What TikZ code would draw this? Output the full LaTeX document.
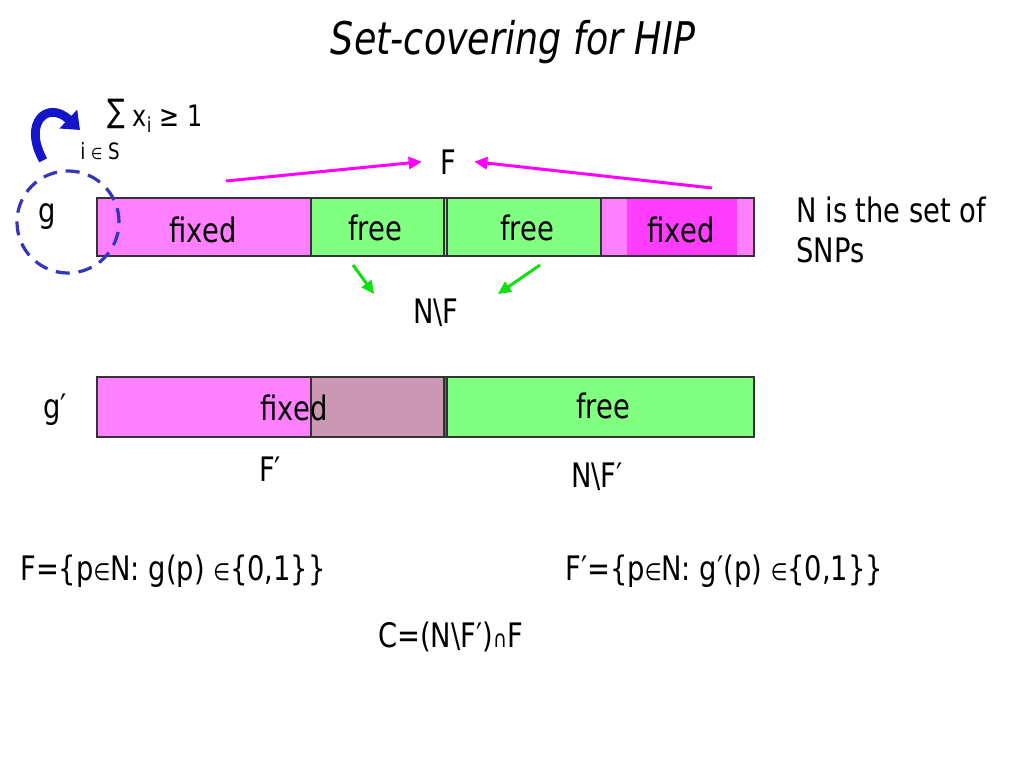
\documentclass[tikz,border=0pt]{standalone}
\usepackage{fontspec}
\setmainfont{DejaVu Sans}[FakeStretch=0.81]
\usetikzlibrary{arrows.meta}

\definecolor{pinkfix}{HTML}{FF80FF}
\definecolor{magfix}{HTML}{FF3DFF}
\definecolor{greenfree}{HTML}{80FF80}
\definecolor{mauve}{HTML}{CA98B2}
\definecolor{arrmag}{HTML}{FF00FF}
\definecolor{arrgreen}{HTML}{10E010}
\definecolor{circblue}{HTML}{3535BB}
\definecolor{bendblue}{HTML}{1414C8}

\newcommand{\inn}{\scalebox{0.7}{∈}}
\newcommand{\capx}{\scalebox{0.7}{∩}}

\begin{document}
\begin{tikzpicture}[x=0.025cm, y=-0.025cm,
    lbl/.style={inner sep=0pt, anchor=base, font=\fontsize{24}{28}\selectfont},
    barline/.style={draw=black!80, line width=0.03cm},
    magarrow/.style={draw=arrmag, line width=0.075cm, -{Triangle[length=0.33cm,width=0.3cm]}},
    greenarrow/.style={draw=arrgreen, line width=0.075cm, -{Triangle[length=0.33cm,width=0.3cm]}},
    bendarrow/.style={draw=bendblue, line width=0.22cm, -{Triangle[length=0.4cm,width=0.62cm]}},
    ringline/.style={draw=circblue, line width=0.08cm, dash pattern=on 0.35cm off 0.22cm}]
    \useasboundingbox (0,0) rectangle (1024,768);

    % bar for g
    \fill[pinkfix] (97,198) rectangle (311,256);
    \fill[greenfree] (311,198) rectangle (601,256);
    \fill[pinkfix] (601,198) rectangle (754,256);
    \fill[magfix] (627,199) rectangle (737,255);
    \draw[barline] (311,198) -- (311,256);
    \draw[barline] (444,198) -- (444,256);
    \draw[barline] (447,198) -- (447,256);
    \draw[barline] (601,198) -- (601,256);
    \draw[barline] (97,198) rectangle (754,256);

    % bar for g'
    \fill[pinkfix] (97,377) rectangle (311,437);
    \fill[mauve] (311,377) rectangle (444,437);
    \fill[black!60] (444,377) rectangle (447,437);
    \fill[greenfree] (447,377) rectangle (754,437);
    \draw[barline] (311,377) -- (311,437);
    \draw[barline] (444,377) -- (444,437);
    \draw[barline] (447,377) -- (447,437);
    \draw[barline] (97,377) rectangle (754,437);

    \node[lbl, font=\fontsize{32}{36}\selectfont\itshape] (title) at (513,55) {Set-covering for HIP};
    \node[lbl, anchor=base west, font=\fontsize{21}{25}\selectfont] (sum) at (107,127) {\raisebox{0.25ex}{\scalebox{1.1}{∑}} x\textsubscript{i} ≥ 1};
    \node[lbl, anchor=base west, font=\fontsize{16}{19}\selectfont] (iinS) at (80,160) {i \inn\ S};

    \node[lbl] (g) at (47,222) {g};
    \node[lbl] (fixA) at (203,242) {fixed};
    \node[lbl] (freeA) at (375,240) {free};
    \node[lbl] (freeB) at (527,240) {free};
    \node[lbl] (fixB) at (681,242) {fixed};
    \node[lbl, anchor=north west, align=left] (snp) at (796,197) {N is the set of\\SNPs};

    \node[lbl, inner xsep=0.45cm, inner ysep=0.05cm] (topF) at (448,174) {F};
    \node[lbl, inner xsep=0.97cm, inner ysep=0.1cm] (NF) at (436,323) {N\textbackslash F};

    \node[lbl] (gp) at (55,418) {g′};
    \node[lbl] (fixC) at (294,420) {fixed};
    \node[lbl] (freeC) at (603,418) {free};
    \node[lbl] (Fp) at (270,481) {F′};
    \node[lbl] (NFp) at (597,487) {N\textbackslash F′};

    \node[lbl, anchor=base west] (defF) at (20,580) {F=\{p\inn N: g(p) \inn\{0,1\}\}};
    \node[lbl, anchor=base west] (defFp) at (565,580) {F′=\{p\inn N: g′(p) \inn\{0,1\}\}};
    \node[lbl, anchor=base west] (defC) at (378,647) {C=(N\textbackslash F′)\capx F};

    % dashed ring round g
    \node[ringline, circle, minimum size=2.55cm, inner sep=0pt] (gring) at (68,222) {};

    % arrows
    \coordinate (magtailA) at (226,181);
    \coordinate (magtailB) at (712,188);
    \coordinate (greentailA) at (353,265);
    \coordinate (greentailB) at (540,265);
    \coordinate (bendtip) at (80,130);
    \draw[magarrow] (magtailA) -- (topF.west);
    \draw[magarrow] (magtailB) -- (topF.east);
    \draw[greenarrow] (greentailA) -- (NF.north west);
    \draw[greenarrow] (greentailB) -- (NF.north east);
    \draw[bendarrow, shorten <=0.35cm] (gring.110) .. controls (22,122) and (48,100) .. (bendtip);
\end{tikzpicture}
\end{document}
